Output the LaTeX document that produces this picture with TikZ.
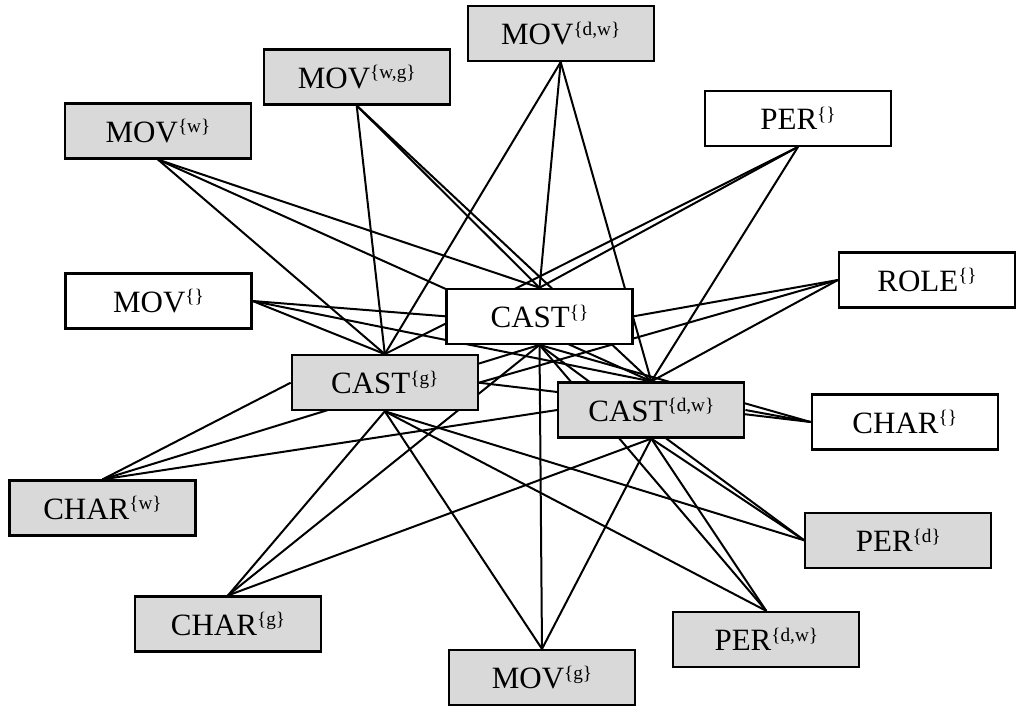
\documentclass[tikz,border=0pt]{standalone}
\usepackage{fontspec}
\setmainfont{Liberation Serif}
\pgfdeclarelayer{edges}
\pgfsetlayers{edges,main}
% index set written as a small raised brace group
\newcommand\idxset[1]{\raisebox{4.6pt}{\fontsize{9.6}{10}\selectfont\{#1\}}}
\definecolor{boxgray}{RGB}{217,217,217}
\tikzset{
  entity/.style={draw=black, line width=1.1pt, rectangle, minimum width=93pt,
    minimum height=27.5pt, inner sep=0pt, font=\fontsize{15.5}{18}\selectfont},
  shaded/.style={entity, fill=boxgray},
  plain/.style={entity, fill=white},
  link/.style={draw=black, line width=1pt}
}
\begin{document}
\begin{tikzpicture}[x=0.5pt,y=-0.5pt]
\useasboundingbox (0,0) rectangle (1017,707);
% entity boxes
\node[shaded] (mdw)   at (560.7,33.5)  {MOV\idxset{d,w}};
\node[shaded] (mwg)   at (356.7,77)    {MOV\idxset{w,g}};
\node[shaded] (mw)    at (158,131)     {MOV\idxset{w}};
\node[plain]  (per0)  at (798,118.3)   {PER\idxset{}};
\node[plain, minimum width=88pt] (role) at (927,280) {ROLE\idxset{}};
\node[plain]  (mov0)  at (158.5,301)   {MOV\idxset{}};
\node[plain]  (cast0) at (539.5,316.3) {CAST\idxset{}};
\node[shaded] (castg) at (384.8,382.7) {CAST\idxset{g}};
\node[shaded] (castdw) at (651.3,410)  {CAST\idxset{d,w}};
\node[plain]  (char0) at (904.7,422)   {CHAR\idxset{}};
\node[shaded] (charw) at (102.5,508)   {CHAR\idxset{w}};
\node[shaded] (perd)  at (898.3,540.3) {PER\idxset{d}};
\node[shaded] (charg) at (228,624)     {CHAR\idxset{g}};
\node[shaded] (perdw) at (766.3,639.5) {PER\idxset{d,w}};
\node[shaded] (movg)  at (542,677.5)   {MOV\idxset{g}};
% connectors, kept behind the boxes
\begin{pgfonlayer}{edges}
\foreach \s in {mdw,mwg,mw,per0}{
  \draw[link] (\s.south) -- (cast0.north);
  \draw[link] (\s.south) -- (castg.north);
  \draw[link] (\s.south) -- (castdw.north);
}
\draw[link] (role.west) -- (cast0.east);
\draw[link] (role.west) -- (castg.east);
\draw[link] (role.west) -- (castdw.north);
\draw[link] (mov0.east) -- (cast0.west);
\draw[link] (mov0.east) -- (castg.north);
\draw[link] (mov0.east) -- (castdw.north);
\draw[link] (char0.west) -- (cast0.south);
\draw[link] (char0.west) -- (castg.east);
\draw[link] (char0.west) -- (castdw.east);
\draw[link] (charw.north) -- (cast0.south);
\draw[link] (charw.north) -- (castg.west);
\draw[link] (charw.north) -- (castdw.west);
\foreach \s/\a in {charg/north,movg/north,perdw/north,perd/west}{
  \draw[link] (\s.\a) -- (cast0.south);
  \draw[link] (\s.\a) -- (castg.south);
  \draw[link] (\s.\a) -- (castdw.south);
}
\end{pgfonlayer}
\end{tikzpicture}
\end{document}
